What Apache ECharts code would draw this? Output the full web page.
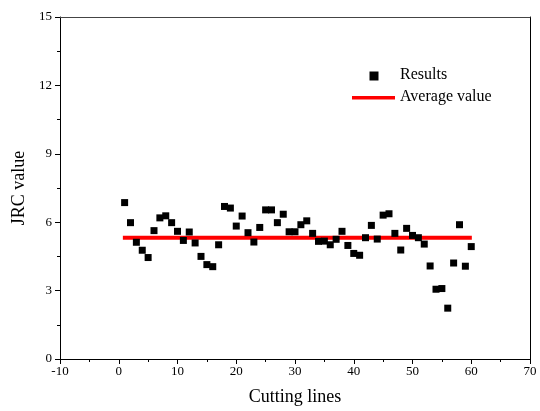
<!DOCTYPE html>
<html><head><meta charset="utf-8">
<script src="https://cdn.jsdelivr.net/npm/echarts@6/dist/echarts.min.js"></script>
<style>html,body{margin:0;padding:0;background:#fff}#c{width:540px;height:411px}</style>
</head><body><div id="c"></div>
<script>
var cuttingLines = [];
for (var i = 1; i <= 60; i++) cuttingLines.push(i);
var jrcValues = [6.86,5.98,5.12,4.77,4.45,5.63,6.19,6.28,5.98,5.6,
  5.2,5.57,5.09,4.5,4.14,4.05,5.01,6.69,6.62,5.83,
  6.27,5.54,5.13,5.77,6.54,6.54,5.98,6.35,5.58,5.58,
  5.89,6.06,5.51,5.16,5.17,5.01,5.25,5.6,4.98,4.63,
  4.55,5.32,5.86,5.26,6.31,6.37,5.51,4.78,5.73,5.42,
  5.32,5.04,4.08,3.06,3.09,2.23,4.21,5.89,4.07,4.93];
var averageValue = 5.32;
var averageRange = [0.7, 60.1];
var xTicks = [-10, 0, 10, 20, 30, 40, 50, 60, 70];
var yTicks = [0, 3, 6, 9, 12, 15];

var font = 'Liberation Serif, Times New Roman, serif';
var chart = echarts.init(document.getElementById('c'), null, {renderer: 'canvas'});
var scatterData = cuttingLines.map(function (x, i) { return [x, jrcValues[i]]; });
var avgData = averageRange.map(function (x) { return [x, averageValue]; });

chart.setOption({
  animation: false,
  backgroundColor: '#fff',
  grid: {left: 60, top: 17, right: 10, bottom: 51, containLabel: false},
  legend: {
    show: true,
    orient: 'vertical',
    left: 343, top: 62,
    padding: 5,
    itemGap: 6,
    itemWidth: 47, itemHeight: 12,
    textStyle: {fontFamily: font, fontSize: 16, color: '#000'},
    data: [
      {name: 'Results', icon: 'path://M0,0M47,12M21.5,2.5L30.5,2.5L30.5,11.5L21.5,11.5Z', itemStyle: {color: '#000', opacity: 1}},
      {name: 'Average value', icon: 'path://M0,0M47,12M4,5L47,5L47,8.5L4,8.5Z', itemStyle: {color: '#ff0000'}}
    ]
  },
  xAxis: [{
    type: 'value', min: xTicks[0], max: xTicks[xTicks.length-1], interval: 10,
    name: 'Cutting lines', nameLocation: 'middle', nameGap: 29,
    nameTextStyle: {fontFamily: font, fontSize: 18, color: '#000'},
    axisLine: {show: true, onZero: false, lineStyle: {color: '#000', width: 1}},
    axisTick: {show: true, inside: false, length: 5, lineStyle: {color: '#000'}},
    minorTick: {show: true, splitNumber: 2, length: 3, lineStyle: {color: '#000'}},
    axisLabel: {fontFamily: font, fontSize: 13, color: '#000', margin: 6},
    splitLine: {show: false}
  }, {
    type: 'value', position: 'top', min: -10, max: 70, interval: 10,
    axisLine: {show: true, onZero: false, lineStyle: {color: '#444', width: 1}},
    axisTick: {show: false}, axisLabel: {show: false}, splitLine: {show: false}
  }],
  yAxis: [{
    type: 'value', min: yTicks[0], max: yTicks[yTicks.length-1], interval: 3,
    name: 'JRC value', nameLocation: 'middle', nameGap: 30,
    nameTextStyle: {fontFamily: font, fontSize: 18, color: '#000'},
    axisLine: {show: true, onZero: false, lineStyle: {color: '#000', width: 1}},
    axisTick: {show: true, inside: false, length: 5, lineStyle: {color: '#000'}},
    minorTick: {show: true, splitNumber: 2, length: 3, lineStyle: {color: '#000'}},
    axisLabel: {fontFamily: font, fontSize: 13, color: '#000', margin: 8},
    splitLine: {show: false}
  }, {
    type: 'value', position: 'right', min: 0, max: 15, interval: 3,
    axisLine: {show: true, onZero: false, lineStyle: {color: '#000', width: 1}},
    axisTick: {show: false}, axisLabel: {show: false}, splitLine: {show: false}
  }],
  series: [{
    name: 'Average value', type: 'line', data: avgData, xAxisIndex: 0, yAxisIndex: 0,
    symbol: 'none', lineStyle: {color: '#ff0000', width: 4}, itemStyle: {color: '#ff0000'}, z: 2
  }, {
    name: 'Results', type: 'scatter', data: scatterData, xAxisIndex: 0, yAxisIndex: 0,
    symbol: 'rect', symbolSize: 7, itemStyle: {color: '#000', opacity: 1}, z: 3
  }]
});
</script></body></html>
